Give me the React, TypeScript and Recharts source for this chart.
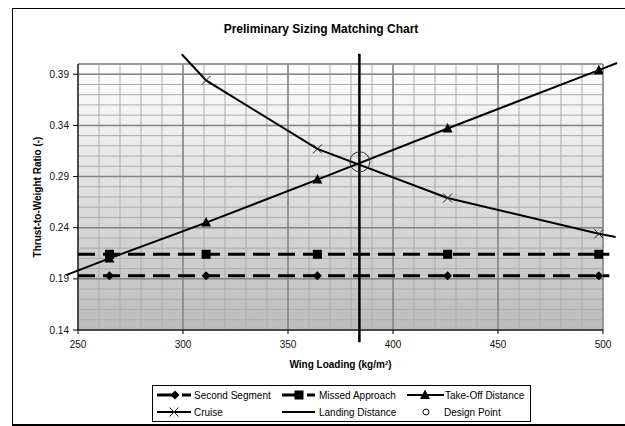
import React from 'react';
import {
  ComposedChart,
  Line,
  Scatter,
  XAxis,
  YAxis,
  CartesianGrid,
} from 'recharts';

const FONT = '"Liberation Sans", Arial, Helvetica, sans-serif';

// axes
const xTicks = [250, 300, 350, 400, 450, 500];
const yTicks = [0.14, 0.19, 0.24, 0.29, 0.34, 0.39];
const xDomain: [number, number] = [250, 500];
const yDomain: [number, number] = [0.14, 0.4];

// wing loadings where the markers sit
const markerLoads = [265, 311, 364, 426, 498];
const secondSegment = [0.193, 0.193, 0.193, 0.193, 0.193];
const missedApproach = [0.214, 0.214, 0.214, 0.214, 0.214];
const takeOffDistance = [0.21, 0.245, 0.287, 0.337, 0.394];
const cruiseLoads = [311, 364, 426, 498];
const cruise = [0.384, 0.317, 0.269, 0.234];

// where each drawn line starts / stops (lines run past the markers)
const secondSegmentEnds = [[250, 0.193], [503, 0.193]];
const missedApproachEnds = [[250, 0.214], [503, 0.214]];
const takeOffEnds = [[244.3, 0.1937], [506.7, 0.401]];
const cruiseEnds = [[299.4, 0.4095], [506, 0.231]];

const landingLoad = 384;
const landingRange = [0.128, 0.41];
const designPoint = [{ x: 384.2, y: 0.3044 }];

type Pt = { x: number; y: number; mark: boolean };

function buildSeries(loads: number[], vals: number[], ends: number[][]): Pt[] {
  return [
    { x: ends[0][0], y: ends[0][1], mark: false },
    ...loads.map((x, i) => ({ x, y: vals[i], mark: true })),
    { x: ends[1][0], y: ends[1][1], mark: false },
  ];
}

const secondData = buildSeries(markerLoads, secondSegment, secondSegmentEnds);
const missedData = buildSeries(markerLoads, missedApproach, missedApproachEnds);
const takeOffData = buildSeries(markerLoads, takeOffDistance, takeOffEnds);
const cruiseData = buildSeries(cruiseLoads, cruise, cruiseEnds);
const landingData: Pt[] = landingRange.map((y) => ({ x: landingLoad, y, mark: false }));

// grid lines (minor every 10 kg/m², 0.01)
const minorX = Array.from({ length: 26 }, (_, i) => 250 + i * 10);
const minorY = Array.from({ length: 27 }, (_, i) => Number((0.14 + i * 0.01).toFixed(2)));
const majorY = [...yTicks, 0.4];

type GridProps = { offset?: { left: number; top: number; width: number; height: number } };

// map grid values onto the plot box the chart hands the generator
const vGrid = (vals: number[]) => ({ offset }: GridProps): number[] => {
  if (!offset) return [];
  return vals.map((v) => offset.left + ((v - xDomain[0]) / (xDomain[1] - xDomain[0])) * offset.width);
};
const hGrid = (vals: number[]) => ({ offset }: GridProps): number[] => {
  if (!offset) return [];
  return vals.map(
    (v) => offset.top + offset.height - ((v - yDomain[0]) / (yDomain[1] - yDomain[0])) * offset.height
  );
};

type Kind = 'diamond' | 'square' | 'triangle' | 'cross';

function MarkerShape({ kind, cx, cy }: { kind: Kind; cx: number; cy: number }) {
  if (kind === 'diamond')
    return (
      <polygon
        points={`${cx},${cy - 4.5} ${cx + 4.5},${cy} ${cx},${cy + 4.5} ${cx - 4.5},${cy}`}
        fill="#000"
      />
    );
  if (kind === 'square') return <rect x={cx - 4.5} y={cy - 4.5} width={9} height={9} fill="#000" />;
  if (kind === 'triangle')
    return <polygon points={`${cx},${cy - 5.5} ${cx + 5},${cy + 4} ${cx - 5},${cy + 4}`} fill="#000" />;
  return (
    <g stroke="#222" strokeWidth={1}>
      <line x1={cx - 4.5} y1={cy - 4.5} x2={cx + 4.5} y2={cy + 4.5} />
      <line x1={cx - 4.5} y1={cy + 4.5} x2={cx + 4.5} y2={cy - 4.5} />
    </g>
  );
}

const dotFor = (kind: Kind) => (props: any) => {
  const { cx, cy, payload, index } = props;
  if (!payload?.mark || cx == null || cy == null) return <g key={`d-${kind}-${index}`} />;
  return (
    <g key={`d-${kind}-${index}`}>
      <MarkerShape kind={kind} cx={cx} cy={cy} />
    </g>
  );
};

function Legend2() {
  const txt = { fontSize: 10, fill: '#000' } as const;
  return (
    <div
      style={{
        position: 'absolute',
        left: 152,
        top: 385,
        width: 377,
        height: 35,
        border: '1px solid #000',
        background: '#fff',
      }}
    >
      <svg width={377} height={35} style={{ display: 'block' }}>
        {/* row 1 */}
        <line x1={4} y1={9} x2={38} y2={9} stroke="#000" strokeWidth={3} strokeDasharray="17 8" />
        <MarkerShape kind="diamond" cx={22} cy={9} />
        <text x={41} y={12.5} {...txt}>Second Segment</text>
        <line x1={129} y1={9} x2={162} y2={9} stroke="#000" strokeWidth={3} strokeDasharray="17 8" />
        <MarkerShape kind="square" cx={146} cy={9} />
        <text x={166} y={12.5} {...txt}>Missed Approach</text>
        <line x1={254} y1={9} x2={291} y2={9} stroke="#000" strokeWidth={2} />
        <MarkerShape kind="triangle" cx={272} cy={9} />
        <text x={292} y={12.5} {...txt}>Take-Off Distance</text>
        {/* row 2 */}
        <line x1={4} y1={26} x2={38} y2={26} stroke="#000" strokeWidth={2} />
        <MarkerShape kind="cross" cx={21} cy={26} />
        <text x={41} y={29.5} {...txt}>Cruise</text>
        <line x1={129} y1={26} x2={162} y2={26} stroke="#000" strokeWidth={2} />
        <text x={166} y={29.5} {...txt}>Landing Distance</text>
        <circle cx={273} cy={26} r={3} fill="none" stroke="#000" strokeWidth={1} />
        <text x={291} y={29.5} {...txt}>Design Point</text>
      </svg>
    </div>
  );
}

export default function App() {
  return (
    <div
      className="tw"
      style={{
        position: 'absolute',
        left: 0,
        top: 0,
        width: 625,
        height: 426,
        overflow: 'hidden',
        background: '#fff',
        fontFamily: FONT,
      }}
    >
      <style>{`.tw .recharts-line, .tw .recharts-line * { clip-path: none !important; }`}</style>
      {/* chart frame, clipped at the right */}
      <div
        style={{
          position: 'absolute',
          left: 12,
          top: 8,
          width: 640,
          height: 415,
          border: '1px solid #000',
          borderBottom: '2px solid #000',
        }}
      />
      <div
        style={{
          position: 'absolute',
          left: 12,
          top: 22,
          width: 618,
          textAlign: 'center',
          fontSize: 12,
          fontWeight: 'bold',
        }}
      >
        Preliminary Sizing Matching Chart
      </div>
      <div style={{ position: 'absolute', left: 0, top: 0 }}>
        <ComposedChart width={625} height={426} margin={{ top: 64, right: 22, bottom: 66, left: 0 }}>
          <defs>
            <linearGradient id="plotBg" x1="0" y1="0" x2="0" y2="1">
              <stop offset="0%" stopColor="#ffffff" />
              <stop offset="100%" stopColor="#bcbcbc" />
            </linearGradient>
          </defs>
          <CartesianGrid
            fill="url(#plotBg)"
            fillOpacity={1}
            stroke="#acacac"
            strokeWidth={1}
            verticalCoordinatesGenerator={vGrid(minorX)}
            horizontalCoordinatesGenerator={hGrid(minorY)}
          />
          <CartesianGrid
            stroke="#858585"
            strokeWidth={1.5}
            verticalCoordinatesGenerator={vGrid(xTicks)}
            horizontalCoordinatesGenerator={hGrid(majorY)}
          />
          <XAxis
            type="number"
            dataKey="x"
            domain={xDomain}
            ticks={xTicks}
            allowDataOverflow
            height={30}
            tickSize={4}
            tickMargin={7}
            stroke="#000"
            tick={{ fontSize: 10, fill: '#111' }}
            label={{
              value: 'Wing Loading (kg/m²)',
              position: 'bottom',
              offset: 1,
              fontSize: 10,
              fontWeight: 'bold',
              fill: '#000',
            }}
          />
          <YAxis
            type="number"
            dataKey="y"
            domain={yDomain}
            ticks={yTicks}
            allowDataOverflow
            width={78}
            tickSize={5}
            tickMargin={4}
            stroke="#000"
            tickFormatter={(v: number) => v.toFixed(2)}
            tick={{ fontSize: 10, fill: '#111' }}
            label={{
              value: 'Thrust-to-Weight Ratio (-)',
              angle: -90,
              position: 'center',
              dx: -2,
              fontSize: 10,
              fontWeight: 'bold',
              fill: '#000',
            }}
          />
          <Line
            data={landingData}
            dataKey="y"
            type="linear"
            stroke="#000"
            strokeWidth={2.5}
            dot={false}
            isAnimationActive={false}
          />
          <Line
            data={secondData}
            dataKey="y"
            type="linear"
            stroke="#000"
            strokeWidth={3}
            strokeDasharray="17 8"
            dot={dotFor('diamond')}
            activeDot={false}
            isAnimationActive={false}
          />
          <Line
            data={missedData}
            dataKey="y"
            type="linear"
            stroke="#000"
            strokeWidth={3}
            strokeDasharray="17 8"
            dot={dotFor('square')}
            activeDot={false}
            isAnimationActive={false}
          />
          <Line
            data={takeOffData}
            dataKey="y"
            type="linear"
            stroke="#000"
            strokeWidth={2}
            dot={dotFor('triangle')}
            activeDot={false}
            isAnimationActive={false}
          />
          <Line
            data={cruiseData}
            dataKey="y"
            type="linear"
            stroke="#000"
            strokeWidth={2}
            dot={dotFor('cross')}
            activeDot={false}
            isAnimationActive={false}
          />
          <Scatter
            data={designPoint}
            dataKey="y"
            isAnimationActive={false}
            shape={(p: any) => (
              <circle cx={p.cx} cy={p.cy} r={10} fill="none" stroke="#333" strokeWidth={1} />
            )}
          />
        </ComposedChart>
      </div>
      <Legend2 />
    </div>
  );
}
